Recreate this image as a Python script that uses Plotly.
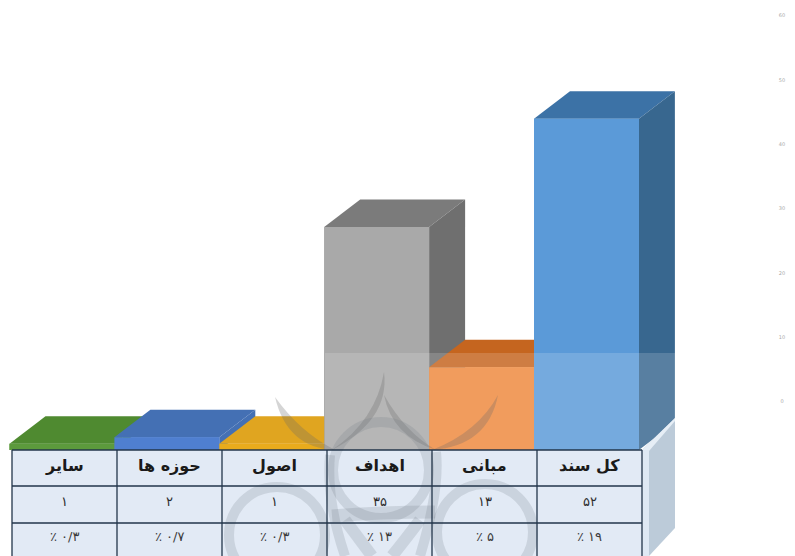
import plotly.graph_objects as go

# ---- data ----
categories = ["سایر", "حوزه ها", "اصول", "اهداف", "مبانی", "کل سند"]
counts = [1, 2, 1, 35, 13, 52]
count_labels = ["۱", "۲", "۱", "۳۵", "۱۳", "۵۲"]
percent_labels = ["٪ ۰/۳", "٪ ۰/۷", "٪ ۰/۳", "٪ ۱۳", "٪ ۵", "٪ ۱۹"]
front_colors = ["#5c9a3c", "#4f7fd0", "#e9ab1c", "#a9a9a9", "#ef8a3e", "#5b9ad8"]
top_colors = ["#4f8a30", "#4470b4", "#e0a520", "#7b7b7b", "#c5651f", "#3c72a6"]
side_colors = ["#4f8a30", "#4470b4", "#e0a520", "#6f6f6f", "#b35a1a", "#38678f"]
axis_ticks = [0, 10, 20, 30, 40, 50, 60]

# ---- geometry: reference pixels; the page adds an 8px body margin ----
PAGE_W, PAGE_H = 795, 556
OFF = 8
STEP = 104.9
LEFT = 9.5
BASE = 450
UNIT = 6.37
DX = 36 / STEP
DY = 27.5 / UNIT
TABLE_LEFT, TABLE_STEP = 12, 105


def px(v):
    return (v - LEFT) / STEP - 0.5


def py(v):
    return (BASE - v) / UNIT


fig = go.Figure()
indices = list(range(len(categories)))

fig.add_trace(go.Bar(
    x=indices, y=counts, width=1.0,
    marker=dict(color=front_colors, line=dict(width=0)),
    hoverinfo="skip", showlegend=False,
))

# each 3D block: top, side, then front, from left to right so that blocks overlap correctly
for i in indices:
    v = counts[i]
    l, r = i - 0.5, i + 0.5
    fig.add_trace(go.Scatter(
        x=[l, r, r + DX, l + DX, l], y=[v, v, v + DY, v + DY, v],
        fill="toself", fillcolor=top_colors[i], mode="none",
        hoverinfo="skip", showlegend=False,
    ))
    fig.add_trace(go.Scatter(
        x=[r, r + DX, r + DX, r, r], y=[0, DY, v + DY, v, 0],
        fill="toself", fillcolor=side_colors[i], mode="none",
        hoverinfo="skip", showlegend=False,
    ))
    fig.add_trace(go.Scatter(
        x=[l, r, r, l, l], y=[0, 0, v, v, 0],
        fill="toself", fillcolor=front_colors[i], mode="none",
        hoverinfo="skip", showlegend=False,
    ))

# faint tick labels of the cropped axis at the right edge
fig.add_trace(go.Scatter(
    x=[px(782)] * len(axis_ticks),
    y=[py(402 - 6.43 * t) for t in axis_ticks],
    text=[str(t) for t in axis_ticks],
    mode="text", textposition="middle center",
    textfont=dict(family="DejaVu Sans", size=5, color="#a8a8a8"),
    cliponaxis=False, hoverinfo="skip", showlegend=False,
))

shapes = []
# veil of the watermark layer
shapes.append(dict(type="rect", x0=px(325), x1=px(675), y0=py(450), y1=py(353),
                   fillcolor="rgba(255,255,255,0.16)", line_width=0, layer="above"))
# table body
tr = TABLE_LEFT + TABLE_STEP * len(categories)
shapes.append(dict(type="rect", x0=px(TABLE_LEFT), x1=px(tr), y0=py(556), y1=py(450),
                   fillcolor="#e2eaf5", line_width=0, layer="above"))
# right panel of the table
shapes.append(dict(type="path",
                   path=f"M {px(tr)} {py(450)} L {px(675)} {py(418)} L {px(675)} {py(528)} "
                        f"L {px(649)} {py(556)} L {px(tr)} {py(556)} Z",
                   fillcolor="#bccbd9", line_width=0, layer="above"))
shapes.append(dict(type="path",
                   path=f"M {px(tr)} {py(450)} L {px(649)} {py(451)} L {px(675)} {py(421)} L {px(675)} {py(418)} Z",
                   fillcolor="#e6eef6", line_width=0, layer="above"))
shapes.append(dict(type="rect", x0=px(tr), x1=px(649), y0=py(556), y1=py(450),
                   fillcolor="#dfe9f4", line_width=0, layer="above"))

# watermark: tapered arcs above the table, rings over it (ornament, no data)
wm = "rgba(105,105,105,0.28)"
wm_table = "rgba(110,120,130,0.20)"
crescents = [
    (275, 397, 287, 448, 335, 450, 300, 432),
    (384, 372, 390, 420, 332, 450, 376, 420),
    (384, 395, 392, 436, 436, 450, 405, 432),
    (498, 395, 488, 446, 432, 450, 478, 432),
]
for x0, y0, c1x, c1y, x1, y1, c2x, c2y in crescents:
    shapes.append(dict(type="path",
                       path=f"M {px(x0)} {py(y0)} Q {px(c1x)} {py(c1y)} {px(x1)} {py(y1)} "
                            f"Q {px(c2x)} {py(c2y)} {px(x0)} {py(y0)} Z",
                       fillcolor=wm, line_width=0, layer="above"))
rings = [(381, 470, 48), (277, 535, 48), (485, 532, 48)]
for cx, cy, rad in rings:
    shapes.append(dict(type="circle", x0=px(cx - rad), x1=px(cx + rad),
                       y0=py(cy + rad), y1=py(cy - rad),
                       line=dict(color=wm_table, width=10), layer="above"))
strokes = [
    (332, 516, 380, 512, 435, 512, 13),
    (330, 455, 326, 500, 345, 556, 10),
    (436, 452, 440, 490, 420, 556, 10),
    (345, 520, 360, 540, 372, 556, 12),
    (420, 520, 405, 540, 392, 556, 12),
]
for x0, y0, cx, cy, x1, y1, w in strokes:
    shapes.append(dict(type="path",
                       path=f"M {px(x0)} {py(y0)} Q {px(cx)} {py(cy)} {px(x1)} {py(y1)}",
                       line=dict(color=wm_table, width=w), layer="above"))

# table grid
grid = "#22354a"
for i in range(len(categories) + 1):
    xl = px(TABLE_LEFT + TABLE_STEP * i)
    shapes.append(dict(type="line", x0=xl, x1=xl, y0=py(556), y1=py(450),
                       line=dict(color=grid, width=1.3), layer="above"))
for y in (450, 486, 523):
    shapes.append(dict(type="line", x0=px(TABLE_LEFT), x1=px(tr), y0=py(y), y1=py(y),
                       line=dict(color=grid, width=1.3), layer="above"))

ann = []
for i, c in enumerate(categories):
    xc = px(TABLE_LEFT + TABLE_STEP * (i + 0.5))
    ann.append(dict(x=xc, y=py(465), text=f"<b>{c}</b>", showarrow=False,
                    font=dict(family="DejaVu Sans", size=16, color="#1a1a1a")))
    ann.append(dict(x=xc, y=py(501), text=count_labels[i], showarrow=False,
                    font=dict(family="DejaVu Sans", size=13, color="#2c2c2c")))
    ann.append(dict(x=xc, y=py(536), text=percent_labels[i], showarrow=False,
                    font=dict(family="DejaVu Sans", size=13, color="#3c3c3c")))

fig.update_layout(
    width=PAGE_W - OFF, height=PAGE_H - OFF,
    margin=dict(l=0, r=0, t=0, b=0),
    paper_bgcolor="white", plot_bgcolor="white",
    barmode="overlay",
    showlegend=False,
    shapes=shapes, annotations=ann,
    xaxis=dict(range=[px(OFF), px(PAGE_W)], visible=False, fixedrange=True),
    yaxis=dict(range=[py(PAGE_H), py(OFF)], visible=False, fixedrange=True),
)

fig.write_html("out.html")
